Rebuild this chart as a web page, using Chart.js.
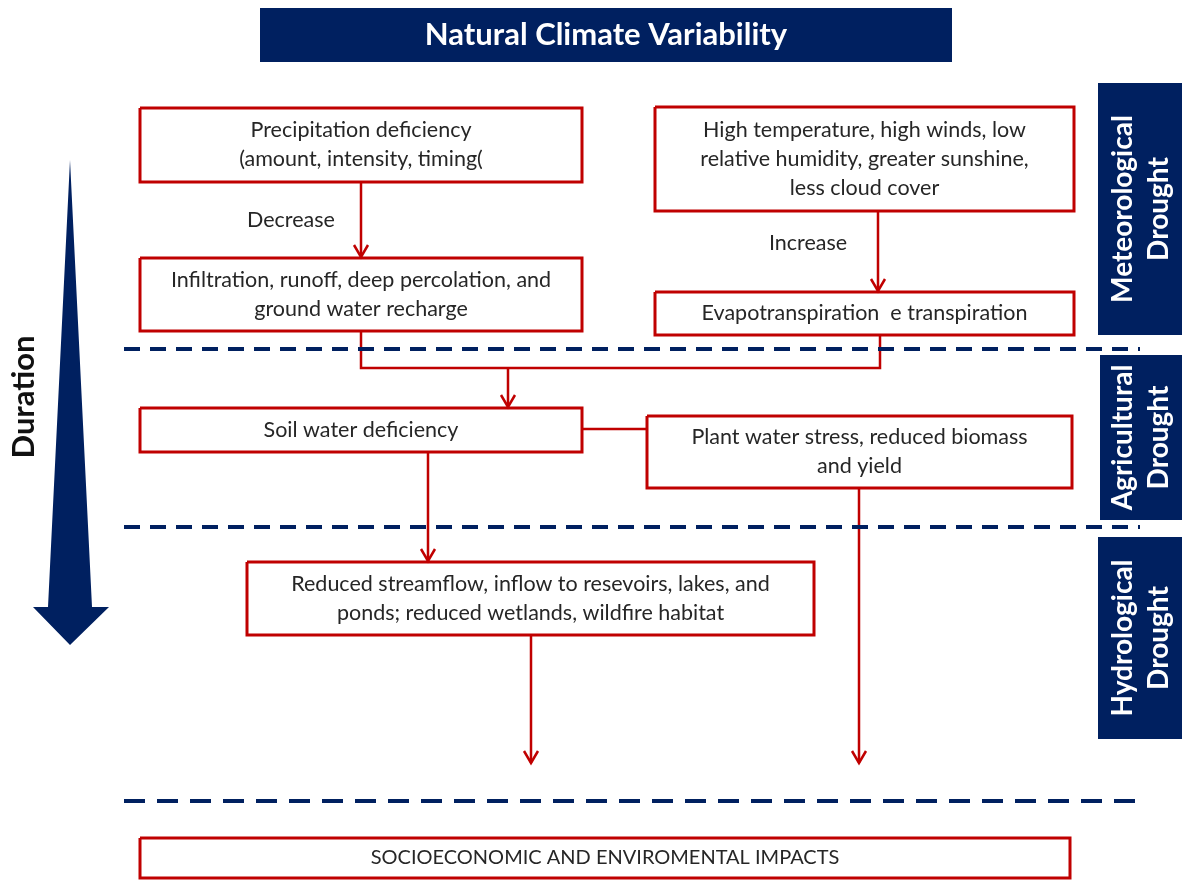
<!DOCTYPE html>
<html>
<head>
<meta charset="utf-8">
<title>Drought types</title>
<script src="https://cdn.jsdelivr.net/npm/chart.js@4/dist/chart.umd.min.js"></script>
<style>
    html, body { margin: 0; padding: 0; background: #fff; }
    #wrap { width: 1182px; height: 881px; position: relative; }
</style>
</head>
<body>
<div id="wrap"><canvas id="diagram"></canvas></div>
<script>
const RED = '#c00000';
const NAVY = '#002060';
const INK = '#262626';

// Diagram content
const titleText = 'Natural Climate Variability';
const titleFrame = [260, 8, 952, 62];

const boxTexts = [
    ['Precipitation deficiency', '(amount, intensity, timing('],
    ['Infiltration, runoff, deep percolation, and', 'ground water recharge'],
    ['High temperature, high winds, low', 'relative humidity, greater sunshine,', 'less cloud cover'],
    ['Evapotranspiration  e transpiration'],
    ['Soil water deficiency'],
    ['Plant water stress, reduced biomass', 'and yield'],
    ['Reduced streamflow, inflow to resevoirs, lakes, and', 'ponds; reduced wetlands, wildfire habitat'],
    ['SOCIOECONOMIC AND ENVIROMENTAL IMPACTS']
];
const boxFrames = [
    [140, 108, 582, 182],
    [140, 258, 582, 331],
    [655, 107, 1074, 211],
    [655, 292, 1074, 335],
    [140, 408, 582, 452],
    [647, 416, 1072, 488],
    [247, 562, 814, 635],
    [140, 838, 1070, 878]
];

const stageLabels = [['Meteorological', 'Drought'], ['Agricultural', 'Drought'], ['Hydrological', 'Drought']];
const stageFrames = [[1098, 83, 1190, 335], [1100, 355, 1190, 520], [1098, 537, 1190, 739]];

const flowLabels = ['Decrease', 'Increase'];
const flowLabelPos = [[291, 220], [808, 243]];

// paths ending in an arrow head
const arrowPaths = [
    [[361, 182], [361, 257]],
    [[878, 211], [878, 291]],
    [[508, 368], [508, 407]],
    [[428, 452], [428, 561]],
    [[531, 635], [531, 763]],
    [[859, 488], [859, 763]]
];
// plain connectors
const linkPaths = [
    [[361, 331], [361, 368], [880, 368], [880, 335]],
    [[582, 429], [647, 429]]
];

const separatorY = [349, 527, 801];
const separatorX = [124, 1140];

const durationLabel = 'Duration';
const durationArrow = [[70, 160], [92, 607], [109, 607], [70, 645], [33, 607], [48, 607]];

function toPoints(path) {
    return path.map(p => ({ x: p[0], y: p[1] }));
}

function frameToPath(f) {
    return [[f[0], f[1]], [f[2], f[1]], [f[2], f[3]], [f[0], f[3]], [f[0], f[1]]];
}

function lineSet(path, color, width, dash) {
    return {
        data: toPoints(path),
        showLine: true,
        borderColor: color,
        borderWidth: width,
        borderDash: dash || [],
        pointRadius: 0,
        borderJoinStyle: 'miter',
        borderCapStyle: 'butt',
        tension: 0
    };
}

const datasets = [];

separatorY.forEach((y, i) => {
    const dash = i === 2 ? [21, 12] : [16, 10];
    datasets.push(lineSet([[separatorX[0], y], [separatorX[1], y]], NAVY, 4, dash));
});

boxFrames.forEach(f => datasets.push(lineSet(frameToPath(f), RED, 3)));

linkPaths.forEach(p => datasets.push(lineSet(p, RED, 2.5)));

arrowPaths.forEach(p => {
    datasets.push(lineSet(p, RED, 2.5));
    const tip = p[p.length - 1];
    datasets.push(lineSet([[tip[0] - 7, tip[1] - 12], tip, [tip[0] + 7, tip[1] - 12]], RED, 2.5));
});

const diagramPlugin = {
    id: 'diagram',
    beforeDatasetsDraw(chart) {
        const ctx = chart.ctx;
        const sx = v => chart.scales.x.getPixelForValue(v);
        const sy = v => chart.scales.y.getPixelForValue(v);
        ctx.save();
        ctx.fillStyle = NAVY;

        // navy boxes
        [titleFrame, ...stageFrames].forEach(f => {
            ctx.fillRect(sx(f[0]), sy(f[1]), sx(f[2]) - sx(f[0]), sy(f[3]) - sy(f[1]));
        });

        // duration arrow
        ctx.beginPath();
        durationArrow.forEach((p, i) => {
            if (i === 0) ctx.moveTo(sx(p[0]), sy(p[1]));
            else ctx.lineTo(sx(p[0]), sy(p[1]));
        });
        ctx.closePath();
        ctx.fill();
        ctx.restore();
    },
    afterDatasetsDraw(chart) {
        const ctx = chart.ctx;
        const sx = v => chart.scales.x.getPixelForValue(v);
        const sy = v => chart.scales.y.getPixelForValue(v);
        ctx.save();
        ctx.textAlign = 'center';
        ctx.textBaseline = 'middle';

        // title
        ctx.fillStyle = '#fff';
        ctx.font = 'bold 31px Lato';
        ctx.fillText(titleText, sx((titleFrame[0] + titleFrame[2]) / 2), sy((titleFrame[1] + titleFrame[3]) / 2));

        // box texts
        ctx.fillStyle = INK;
        boxTexts.forEach((lines, i) => {
            const f = boxFrames[i];
            const cx = (f[0] + f[2]) / 2;
            const cy = (f[1] + f[3]) / 2;
            ctx.font = i === 7 ? '20px Lato' : '21.5px Lato';
            lines.forEach((line, j) => {
                const y = cy + (j - (lines.length - 1) / 2) * 29;
                ctx.fillText(line, sx(cx), sy(y));
            });
        });

        // flow labels
        ctx.font = '21.5px Lato';
        flowLabels.forEach((t, i) => ctx.fillText(t, sx(flowLabelPos[i][0]), sy(flowLabelPos[i][1])));

        // stage labels, rotated
        ctx.fillStyle = '#fff';
        ctx.font = 'bold 28px Lato';
        stageLabels.forEach((lines, i) => {
            const f = stageFrames[i];
            const cx = 1141;
            const cy = (f[1] + f[3]) / 2;
            ctx.save();
            ctx.translate(sx(cx), sy(cy));
            ctx.rotate(-Math.PI / 2);
            lines.forEach((line, j) => {
                ctx.fillText(line, 0, (j - (lines.length - 1) / 2) * 36);
            });
            ctx.restore();
        });

        // duration label
        ctx.fillStyle = '#111';
        ctx.font = 'bold 31px Lato';
        ctx.save();
        ctx.translate(sx(24), sy(397));
        ctx.rotate(-Math.PI / 2);
        ctx.fillText(durationLabel, 0, 0);
        ctx.restore();

        ctx.restore();
    }
};

new Chart(document.getElementById('diagram'), {
    type: 'scatter',
    data: { datasets: datasets },
    options: {
        responsive: true,
        maintainAspectRatio: false,
        animation: false,
        events: [],
        layout: { padding: 0 },
        plugins: {
            legend: { display: false },
            tooltip: { enabled: false }
        },
        scales: {
            x: { type: 'linear', min: 0, max: 1182, display: false },
            y: { type: 'linear', min: 0, max: 881, reverse: true, display: false }
        }
    },
    plugins: [diagramPlugin]
});
</script>
</body>
</html>
